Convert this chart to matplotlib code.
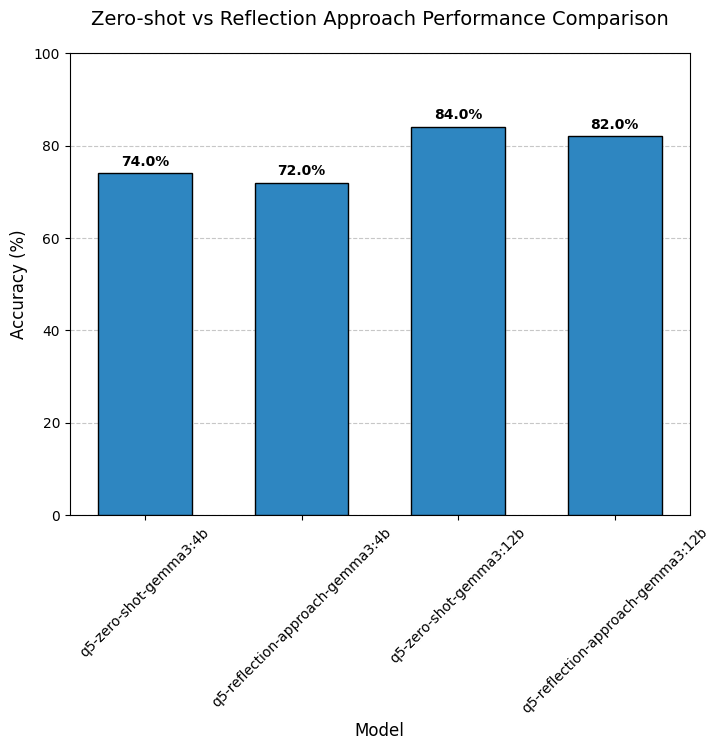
import matplotlib
matplotlib.use("Agg")
import matplotlib.pyplot as plt

models = ["q5-zero-shot-gemma3:4b", "q5-reflection-approach-gemma3:4b",
          "q5-zero-shot-gemma3:12b", "q5-reflection-approach-gemma3:12b"]
accuracy = [74.0, 72.0, 84.0, 82.0]

fig, ax = plt.subplots(figsize=(7.2, 7.49), dpi=100)
bars = ax.bar(models, accuracy, width=0.6, color="#2e86c1", edgecolor="black", zorder=3)

for b, v in zip(bars, accuracy):
    ax.text(b.get_x() + b.get_width() / 2, v + 1, f"{v:.1f}%",
            ha="center", va="bottom", fontweight="bold")

ax.set_ylim(0, 100)
ax.set_title("Zero-shot vs Reflection Approach Performance Comparison", fontsize=14, pad=20)
ax.set_xlabel("Model", fontsize=12)
ax.set_ylabel("Accuracy (%)", fontsize=12)
ax.grid(axis="y", linestyle="--", alpha=0.7, zorder=0)
plt.xticks(rotation=45)

plt.subplots_adjust(left=0.097, right=0.958, top=0.929, bottom=0.312)
plt.savefig("out.png")
